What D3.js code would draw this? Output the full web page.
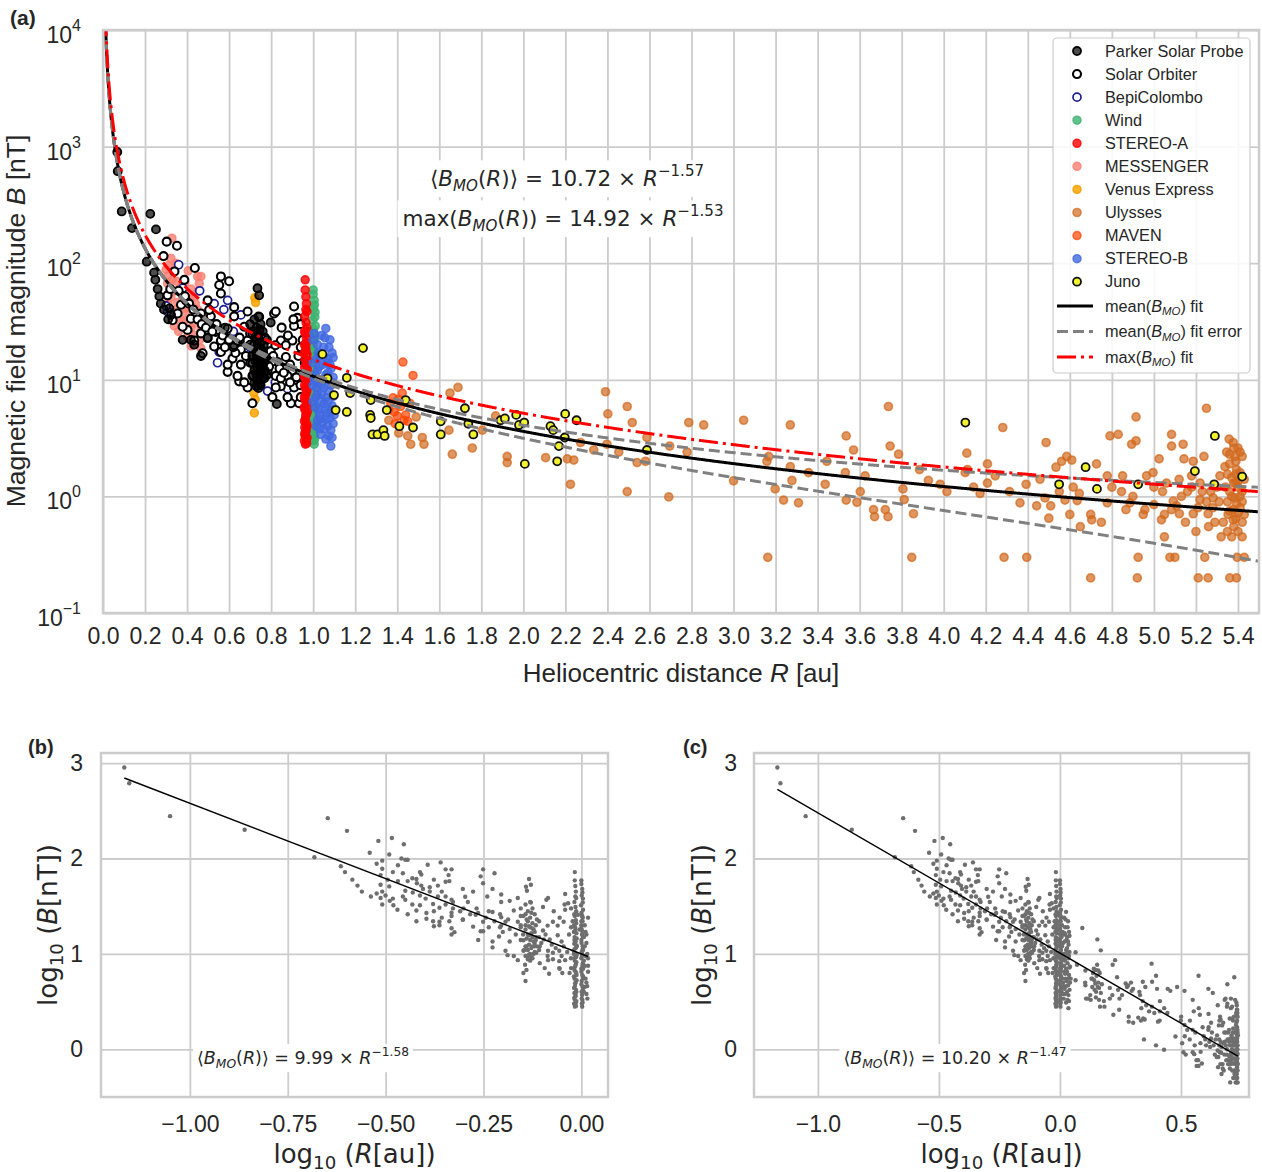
<!DOCTYPE html>
<html>
<head>
<meta charset="utf-8">
<script src="https://cdn.jsdelivr.net/npm/d3@7"></script>
<style>
  body { margin: 0; background: #fff; }
  text { font-family: "Liberation Sans", Arial, sans-serif; white-space: pre; }
</style>
</head>
<body>
<div id="chart"></div>
<script>
const width = 1262;
const height = 1172;

// ---------- values ----------
const xTicksA = [0.0, 0.2, 0.4, 0.6, 0.8, 1.0, 1.2, 1.4, 1.6, 1.8, 2.0, 2.2, 2.4, 2.6, 2.8,
  3.0, 3.2, 3.4, 3.6, 3.8, 4.0, 4.2, 4.4, 4.6, 4.8, 5.0, 5.2, 5.4];
const yTicksA = [0.1, 1, 10, 100, 1000, 10000];
const yTickExpA = ['\u22121', '0', '1', '2', '3', '4'];
const xTicksB = [-1.0, -0.75, -0.5, -0.25, 0.0];
const xTicksC = [-1.0, -0.5, 0.0, 0.5];
const yTicksBC = [0, 1, 2, 3];

// fits: [amplitude, exponent]
const meanFit = [10.72, -1.57];
const maxFit = [14.92, -1.53];
const meanFitError = 0.46;   // nT, half width of the grey band
const innerFit = [9.99, -1.58];
const allFit = [10.20, -1.47];

const missions = ['Parker Solar Probe', 'Solar Orbiter', 'BepiColombo', 'Wind', 'STEREO-A',
  'MESSENGER', 'Venus Express', 'Ulysses', 'MAVEN', 'STEREO-B', 'Juno'];

// [R (au), B (nT)]
const pspData = [
  [0.068, 900], [0.070, 615], [0.089, 278], [0.138, 200], [0.208, 103], [0.225, 265],
  [0.252, 195], [0.243, 83], [0.249, 72], [0.260, 60], [0.268, 52], [0.275, 45],
  [0.290, 40], [0.316, 41], [0.324, 36], [0.310, 33], [0.379, 22], [0.418, 22],
  [0.434, 20], [0.466, 16], [0.498, 23], [0.580, 28], [0.620, 19], [0.735, 61],
  [0.743, 53], [0.798, 31], [0.827, 6.2], [0.700, 30], [0.700, 20], [0.700, 14],
  [0.720, 33], [0.720, 26], [0.720, 18], [0.720, 12], [0.720, 9.5], [0.730, 28],
  [0.730, 22], [0.730, 16], [0.730, 11], [0.730, 8.8], [0.740, 35], [0.740, 24],
  [0.740, 19], [0.740, 14], [0.740, 10], [0.740, 8.5], [0.750, 30], [0.750, 21],
  [0.750, 15], [0.750, 12], [0.750, 9], [0.760, 26], [0.760, 17], [0.760, 13],
  [0.760, 10.5], [0.780, 22], [0.780, 15], [0.780, 11], [0.710, 25], [0.710, 16],
  [0.715, 11], [0.725, 23], [0.725, 14.5], [0.735, 19.5], [0.735, 12.5], [0.735, 9.8],
  [0.745, 27], [0.745, 16.5], [0.745, 11.5], [0.755, 18], [0.755, 13.5], [0.755, 10],
  [0.765, 20], [0.765, 14], [0.770, 12], [0.745, 9.2]
];
const soloData = [
  [0.303, 153], [0.352, 141], [0.288, 115], [0.437, 91], [0.387, 72], [0.561, 77],
  [0.600, 70], [0.553, 65], [0.561, 55], [0.498, 48], [0.624, 42], [0.688, 38.5],
  [0.743, 34.6], [0.814, 37], [0.909, 42.5], [0.925, 34], [0.941, 30], [0.901, 21.7],
  [0.941, 19], [0.980, 25.7], [1.004, 16], [0.957, 10], [0.593, 11.7], [0.648, 9.7],
  [0.688, 8.6], [0.711, 6.3], [0.806, 7.1], [0.846, 8.8], [0.894, 6.3], [0.933, 6.3],
  [0.941, 7.1], [1.012, 7.3], [0.371, 44], [0.331, 32.4], [0.466, 37], [0.498, 22.8],
  [0.529, 19.3], [0.474, 16.9], [0.513, 35], [0.537, 25.7], [0.561, 21.7], [0.593, 27.5],
  [0.624, 19.8], [0.656, 18.2], [0.688, 21.7], [0.711, 13.9], [0.735, 15.7], [0.798, 17.6],
  [0.830, 14.2], [0.870, 15.7], [0.901, 12], [0.878, 10.8], [0.822, 10.8], [0.783, 12],
  [0.767, 10.3], [0.656, 13.5], [0.616, 15.2], [0.561, 17.3], [0.402, 26.8], [0.434, 21.7],
  [0.418, 33.4], [0.355, 37], [0.505, 39.8], [0.624, 35], [0.909, 29], [0.822, 38.5],
  [0.906, 33], [0.711, 10.8], [0.672, 9.5], [0.846, 10.3], [0.878, 7.1], [0.909, 8.6],
  [0.973, 12], [0.822, 8.6], [0.802, 14.2], [0.767, 15], [0.640, 21.7], [0.545, 26.8],
  [0.379, 28.5], [0.394, 48], [0.307, 53], [0.466, 25], [0.672, 28.5], [0.846, 21.7],
  [0.870, 19.8], [0.640, 10.8], [0.593, 13.5], [0.320, 60], [0.340, 85], [0.360, 58],
  [0.390, 52], [0.410, 45], [0.430, 40], [0.450, 33], [0.470, 30], [0.490, 28],
  [0.520, 26], [0.540, 30], [0.570, 24], [0.580, 19], [0.600, 22], [0.630, 17],
  [0.650, 23], [0.680, 16], [0.700, 25], [0.720, 20], [0.750, 18.5], [0.790, 13],
  [0.810, 16], [0.840, 12.5], [0.860, 11.5], [0.890, 13.5], [0.920, 10.5], [0.940, 9],
  [0.960, 14], [0.930, 16], [0.880, 24], [0.850, 28], [0.950, 22], [0.990, 18],
  [0.890, 9.5], [0.820, 19.8], [0.770, 23]
];
const bepiData = [
  [0.360, 97], [0.379, 61], [0.307, 38.5], [0.593, 48], [0.575, 40], [0.656, 36],
  [0.545, 14], [0.783, 8], [0.878, 8.4], [0.529, 45], [0.553, 17.3], [0.624, 24.2],
  [0.460, 58], [0.500, 30], [0.620, 26], [0.700, 19], [0.760, 12], [0.820, 9.5],
  [0.880, 7], [0.300, 43]
];
const windData = [
  [1.000, 59], [1.005, 48], [1.002, 41], [1.008, 34.6], [0.998, 32.4], [1.010, 29],
  [1.003, 25], [1.007, 22], [0.999, 20], [1.004, 17.5], [1.009, 15], [1.001, 13],
  [1.006, 11], [1.003, 9.5], [1.008, 8], [1.000, 7], [1.005, 6], [1.002, 5.2],
  [1.007, 4.5], [1.001, 4], [1.004, 3.7], [1.006, 3.3], [1.003, 3.0], [1.005, 2.8],
  [1.000, 54], [1.006, 44], [1.009, 38], [1.001, 27], [1.008, 24], [1.000, 18.5],
  [1.005, 16], [1.008, 12], [1.002, 10.5], [1.006, 7.5], [1.009, 5.6], [1.000, 4.8],
  [1.008, 4.2], [1.002, 3.4], [1.007, 3.1]
];
const staData = [
  [0.962, 72], [0.962, 59], [0.965, 51.5], [0.968, 45], [0.970, 38.5], [0.960, 35],
  [0.966, 31], [0.970, 28], [0.962, 25], [0.968, 22.5], [0.958, 20], [0.966, 18],
  [0.971, 16.5], [0.961, 15], [0.967, 13.5], [0.972, 12.3], [0.960, 11.2], [0.965, 10.2],
  [0.970, 9.3], [0.962, 8.5], [0.968, 7.8], [0.958, 7.1], [0.966, 6.5], [0.972, 6.0],
  [0.961, 5.5], [0.967, 5.0], [0.963, 4.6], [0.969, 4.2], [0.960, 3.9], [0.966, 3.6],
  [0.962, 3.3], [0.968, 3.1], [0.963, 2.8], [0.957, 17], [0.973, 14.5], [0.959, 12.8],
  [0.969, 11.6], [0.957, 10.6], [0.973, 9.8], [0.959, 9], [0.971, 8.2], [0.964, 7.4],
  [0.960, 6.8], [0.970, 6.3], [0.957, 5.8], [0.972, 5.3], [0.964, 4.9], [0.958, 4.4],
  [0.971, 4.0], [0.966, 3.75], [0.959, 3.45], [0.971, 3.2], [0.958, 3.0], [0.969, 2.85],
  [0.964, 19], [0.970, 21], [0.959, 26], [0.965, 40]
];
const messData = [
  [0.328, 164], [0.323, 110], [0.347, 100], [0.355, 97], [0.405, 86], [0.450, 77],
  [0.300, 88], [0.310, 78], [0.307, 67], [0.350, 70], [0.458, 67], [0.466, 77],
  [0.450, 57], [0.420, 60], [0.380, 55], [0.323, 51], [0.355, 46], [0.440, 45],
  [0.387, 41], [0.400, 38], [0.330, 38], [0.470, 35], [0.387, 32.4], [0.434, 30.5],
  [0.339, 29], [0.466, 27], [0.360, 26], [0.402, 23.4], [0.420, 19.5], [0.466, 18.6],
  [0.310, 95], [0.330, 72], [0.340, 58], [0.370, 62], [0.390, 68], [0.410, 50],
  [0.430, 52], [0.450, 40], [0.350, 40], [0.370, 33], [0.310, 45], [0.420, 28],
  [0.440, 24], [0.460, 22]
];
const vexData = [
  [0.722, 50.5], [0.726, 46], [0.725, 12], [0.728, 9.5], [0.718, 7.7], [0.724, 6.8], [0.720, 5.2]
];
const ulyData = [
  [1.407, 3.5], [1.464, 2.8], [1.519, 3.2], [1.527, 2.8], [1.646, 3.7], [1.651, 7.7],
  [1.689, 8.6], [1.662, 2.3], [1.757, 2.6], [1.805, 3.7], [1.868, 4.9], [1.923, 2.2],
  [1.923, 1.95], [1.360, 4.5], [1.450, 3.3], [1.490, 4.8], [2.106, 2.15], [2.209, 2.1],
  [2.240, 2.05], [2.224, 1.27], [2.272, 2.9], [2.335, 2.5], [2.391, 7.9], [2.402, 5.1],
  [2.398, 2.8], [2.454, 2.4], [2.494, 5.9], [2.494, 1.1], [2.518, 4.3], [2.541, 1.95],
  [2.581, 2.0], [2.588, 3.2], [2.692, 0.99], [2.696, 2.7], [2.779, 2.4], [2.787, 4.3],
  [2.858, 4.1], [3.000, 1.36], [3.048, 4.5], [3.159, 2.0], [3.167, 2.2], [3.163, 0.30],
  [3.198, 1.16], [3.238, 0.93], [3.270, 4.1], [3.270, 1.8], [3.278, 1.37], [3.309, 0.88],
  [3.357, 1.6], [3.436, 1.27], [3.444, 2.0], [3.532, 1.6], [3.536, 3.3], [3.536, 0.93],
  [3.571, 2.5], [3.587, 0.89], [3.603, 1.1], [3.626, 1.5], [3.666, 0.77], [3.671, 0.67],
  [3.722, 0.77], [3.735, 0.67], [3.737, 5.9], [3.745, 2.7], [3.785, 2.3], [3.806, 1.16],
  [3.812, 0.94], [3.848, 0.30], [3.856, 0.71], [3.885, 1.7], [3.927, 1.37], [3.983, 1.27],
  [4.015, 1.1], [4.102, 1.6], [4.110, 2.35], [4.113, 1.7], [4.142, 1.2], [4.173, 1.06],
  [4.208, 1.9], [4.208, 1.3], [4.245, 1.5], [4.281, 3.9], [4.287, 0.30], [4.313, 1.1],
  [4.363, 0.88], [4.392, 1.27], [4.395, 0.30], [4.442, 0.83], [4.458, 1.4], [4.482, 0.97],
  [4.487, 2.9], [4.509, 0.83], [4.534, 1.78], [4.561, 2.0], [4.577, 0.93], [4.585, 2.2],
  [4.609, 2.05], [4.616, 1.2], [4.635, 0.92], [4.645, 1.06], [4.699, 0.7], [4.699, 0.2],
  [4.704, 0.63], [4.727, 1.9], [4.778, 1.5], [4.778, 0.88], [4.791, 3.3], [4.830, 3.4],
  [4.846, 1.1], [4.851, 1.5], [4.867, 0.77], [4.886, 0.88], [4.894, 2.8], [4.915, 3.0],
  [4.915, 4.8], [4.921, 0.2], [4.925, 0.3], [4.949, 0.7], [4.957, 0.77], [4.965, 1.5],
  [4.996, 1.6], [5.025, 2.1], [5.036, 0.63], [5.041, 1.1], [5.076, 0.3], [5.084, 3.4],
  [5.084, 2.7], [5.084, 0.77], [5.092, 0.91], [5.100, 0.3], [5.108, 0.83], [5.121, 0.71],
  [5.131, 1.0], [5.139, 2.8], [5.143, 2.1], [5.179, 1.5], [5.187, 2.0], [5.187, 0.71],
  [5.211, 0.2], [5.219, 0.94], [5.238, 2.2], [5.242, 0.3], [5.250, 5.7], [5.258, 0.2],
  [5.258, 0.71], [5.282, 0.97], [5.314, 1.5], [5.338, 1.8], [5.346, 2.4], [5.353, 0.7],
  [5.358, 3.1], [5.361, 0.2], [5.377, 2.9], [5.377, 0.77], [5.377, 0.63], [5.385, 2.2],
  [5.385, 0.97], [5.390, 1.3], [5.393, 1.7], [5.393, 0.87], [5.393, 0.2], [5.396, 0.3],
  [5.401, 0.72], [5.360, 1.1], [5.400, 1.2], [5.410, 1.0], [5.370, 1.45], [5.420, 0.9],
  [5.400, 2.6], [5.360, 1.9], [5.410, 1.6], [5.380, 0.55], [5.420, 0.45], [5.350, 0.5],
  [5.390, 2.0], [5.300, 1.2], [5.270, 1.1], [5.220, 1.3], [5.160, 1.1], [5.060, 1.3],
  [5.120, 1.4], [5.000, 1.2], [5.200, 0.5], [5.260, 0.55], [5.050, 0.45],
  [5.340, 1.2], [5.350, 0.9], [5.360, 0.75], [5.370, 1.0], [5.380, 1.3], [5.390, 1.55],
  [5.400, 1.35], [5.410, 0.8], [5.420, 1.1], [5.430, 1.4], [5.430, 0.7], [5.420, 2.2],
  [5.410, 2.4], [5.380, 2.6], [5.360, 2.3], [5.350, 1.55], [5.390, 0.65], [5.400, 0.5],
  [5.370, 0.45], [5.420, 0.6], [5.430, 0.3], [5.330, 0.6], [5.310, 0.9], [5.290, 0.6],
  [5.320, 0.45], [5.280, 0.8], [5.250, 0.9], [5.230, 1.1], [5.210, 0.8], [5.180, 1.2],
  [4.600, 0.7], [4.650, 0.55], [4.750, 0.6], [4.800, 1.2], [4.900, 1.0], [5.000, 0.85],
  [5.050, 0.7], [5.150, 0.6], [4.550, 1.1], [4.500, 0.65]
];
const mavenData = [
  [1.427, 14.2], [1.475, 10.9], [1.369, 6.3], [1.385, 5.3], [1.400, 4.9], [1.416, 5.9],
  [1.424, 7.7], [1.390, 4.2], [1.440, 5.0], [1.460, 6.3], [1.360, 5.5], [1.432, 4.5],
  [1.380, 7.0], [1.450, 4.4], [1.405, 6.8]
];
const stbData = [
  [1.060, 27.6], [1.040, 24], [1.080, 22], [1.020, 20], [1.050, 19], [1.090, 17],
  [1.030, 16], [1.070, 15], [1.000, 14], [1.045, 13.5], [1.085, 12.5], [1.020, 12],
  [1.060, 11], [1.035, 10], [1.090, 9.5], [1.000, 9], [1.050, 8.5], [1.075, 8],
  [1.020, 7.5], [1.060, 7], [1.040, 6.5], [1.090, 6], [1.010, 5.8], [1.055, 5.5],
  [1.030, 5], [1.080, 4.7], [1.045, 4.3], [1.070, 4], [1.036, 3.4], [1.084, 3.7],
  [1.084, 2.7], [1.060, 3.1], [1.020, 4.5], [1.000, 6.5], [1.095, 10.5], [1.010, 11],
  [1.065, 14], [1.025, 17], [1.075, 19], [1.000, 22], [1.040, 9], [1.065, 5.2],
  [1.015, 8.5], [1.080, 13.5], [1.005, 25], [1.055, 23], [1.095, 15.5], [1.015, 15],
  [1.050, 16], [1.030, 13], [1.070, 11.5], [1.005, 10], [1.055, 10], [1.085, 9],
  [1.025, 9.5], [1.070, 6.5], [1.040, 7.5], [1.095, 7.2], [1.010, 7], [1.050, 6.2],
  [1.025, 5.5], [1.085, 5.5], [1.060, 4.6], [1.035, 4.6], [1.095, 4.2], [1.015, 4],
  [1.050, 3.8], [1.075, 3.3], [1.030, 3.8], [1.100, 5], [1.090, 3.2]
];
const junoData = [
  [1.044, 16.6], [1.068, 10.3], [1.099, 7.4], [1.107, 5.5], [1.160, 10.4], [1.160, 5.3],
  [1.176, 7.7], [1.237, 18.7], [1.274, 6.7], [1.271, 5.0], [1.274, 4.7], [1.282, 3.4],
  [1.306, 3.4], [1.334, 3.7], [1.340, 3.3], [1.350, 5.5], [1.410, 4.0], [1.440, 6.7],
  [1.475, 3.9], [1.607, 4.4], [1.607, 3.4], [1.722, 5.7], [1.738, 4.2], [1.762, 3.4],
  [1.892, 4.5], [1.912, 4.66], [1.966, 5.0], [1.979, 4.1], [2.004, 4.3], [2.007, 1.9],
  [2.129, 4.0], [2.142, 3.7], [2.161, 2.0], [2.169, 2.7], [2.197, 3.2], [2.199, 5.1],
  [2.253, 4.5], [2.588, 2.5], [4.103, 4.3], [4.549, 1.27], [4.675, 1.78], [4.729, 1.16],
  [4.925, 1.27], [5.195, 1.65], [5.290, 3.3], [5.287, 1.27], [5.420, 1.48]
];
const missionData = [pspData, soloData, bepiData, windData, staData, messData, vexData,
  ulyData, mavenData, stbData, junoData];
// order in which the missions are stacked (bottom first)
const drawOrder = [5, 6, 2, 1, 0, 3, 4, 9, 7, 8, 10];

// ---------- styles ----------
const missionStyle = [
  { fill: '#000000', fo: 0.7, stroke: '#000000', so: 1, sw: 1.8 },
  { fill: '#ffffff', fo: 1, stroke: '#000000', so: 1, sw: 2.1 },
  { fill: '#ffffff', fo: 1, stroke: '#1c1c96', so: 1, sw: 1.7 },
  { fill: '#3cb371', fo: 0.8, stroke: '#3cb371', so: 0.8, sw: 1.5 },
  { fill: '#ff0000', fo: 0.8, stroke: '#ff0000', so: 0.8, sw: 1.5 },
  { fill: '#fa8072', fo: 0.8, stroke: '#fa8072', so: 0.8, sw: 1.5 },
  { fill: '#ffa500', fo: 0.85, stroke: '#f0a000', so: 0.85, sw: 1.5 },
  { fill: '#d2691e', fo: 0.7, stroke: '#d2691e', so: 0.7, sw: 1.7 },
  { fill: '#ff4500', fo: 0.7, stroke: '#ff4500', so: 0.7, sw: 1.5 },
  { fill: '#4169e1', fo: 0.8, stroke: '#4169e1', so: 0.8, sw: 1.5 },
  { fill: '#f2f22e', fo: 1, stroke: '#111111', so: 1, sw: 1.8 }
];
const markerR = 4;
const gridColor = '#cccccc';
const textColor = '#262626';
const sans = '"Liberation Sans", Arial, sans-serif';
const math = '"DejaVu Sans", sans-serif';

const svg = d3.select('#chart')
  .append('svg')
  .attr('width', width)
  .attr('height', height)
  .style('background', '#fff');

// mathtext-like label: segs = [[text, flags]], flags: i italic, b subscript, p superscript
function mathText(parent, x, y, segs, size, family, anchor) {
  const t = parent.append('text')
    .attr('x', x).attr('y', y)
    .attr('text-anchor', anchor || 'start')
    .attr('fill', textColor)
    .style('font-family', family)
    .style('font-size', size + 'px');
  let off = 0;
  segs.forEach(([str, f = '']) => {
    const shift = f.includes('b') ? size * 0.24 : f.includes('p') ? -size * 0.45 : 0;
    const ts = t.append('tspan').attr('dy', shift - off).text(str);
    if (f.includes('b') || f.includes('p')) ts.style('font-size', (size * 0.7) + 'px');
    if (f.includes('i')) ts.style('font-style', 'italic');
    off = shift;
  });
  return t;
}

function boxBehind(parent, t, padX, padY) {
  const bb = t.node().getBBox();
  parent.insert('rect', () => t.node())
    .attr('x', bb.x - padX).attr('y', bb.y - padY)
    .attr('width', bb.width + 2 * padX).attr('height', bb.height + 2 * padY)
    .attr('fill', '#fff');
}

function styleGrid(g, size) {
  g.select('.domain').remove();
  g.selectAll('.tick line').attr('stroke', gridColor).attr('stroke-width', 1.8);
  g.selectAll('.tick text')
    .attr('fill', textColor)
    .style('font-family', sans)
    .style('font-size', size + 'px');
}

// ================= panel (a) =================
const a = { left: 103, top: 30, right: 1259, bottom: 613 };
const xA = d3.scaleLinear().domain([0, 5.5]).range([a.left, a.right]);
const yA = d3.scaleLog().domain([0.1, 1e4]).range([a.bottom, a.top]);

svg.append('defs').append('clipPath').attr('id', 'clipA')
  .append('rect').attr('x', a.left).attr('y', a.top)
  .attr('width', a.right - a.left).attr('height', a.bottom - a.top);

svg.append('g')
  .attr('transform', `translate(0, ${a.bottom})`)
  .call(d3.axisBottom(xA).tickValues(xTicksA).tickSize(-(a.bottom - a.top))
    .tickPadding(15).tickFormat(d3.format('.1f')))
  .call(g => styleGrid(g, 23));

svg.append('g')
  .attr('transform', `translate(${a.left}, 0)`)
  .call(d3.axisLeft(yA).tickValues(yTicksA).tickSize(-(a.right - a.left)).tickFormat(''))
  .call(g => styleGrid(g, 23));

yTicksA.forEach((v, i) => {
  const t = svg.append('text')
    .attr('x', a.left - 22).attr('y', yA(v) + 13)
    .attr('text-anchor', 'end').attr('fill', textColor)
    .style('font-size', '23px');
  t.append('tspan').text('10');
  t.append('tspan').attr('dy', -12).style('font-size', '16px').text(yTickExpA[i]);
});

const plotA = svg.append('g').attr('clip-path', 'url(#clipA)');

drawOrder.forEach(i => {
  const st = missionStyle[i];
  plotA.append('g').selectAll('circle')
    .data(missionData[i])
    .enter()
    .append('circle')
    .attr('cx', d => xA(d[0]))
    .attr('cy', d => yA(d[1]))
    .attr('r', markerR)
    .attr('fill', st.fill).attr('fill-opacity', st.fo)
    .attr('stroke', st.stroke).attr('stroke-opacity', st.so)
    .attr('stroke-width', st.sw);
});

const rGrid = d3.range(0.008, 5.5, 0.004).concat([5.5]);
const power = p => r => p[0] * Math.pow(r, p[1]);
const lineA = d3.line().x(d => xA(d[0])).y(d => yA(d[1]));

plotA.append('path')
  .datum(rGrid.map(r => [r, power(meanFit)(r)]))
  .attr('d', lineA).attr('fill', 'none')
  .attr('stroke', '#000').attr('stroke-width', 3);

[1, -1].forEach(s => {
  plotA.append('path')
    .datum(rGrid.map(r => [r, power(meanFit)(r) + s * meanFitError]))
    .attr('d', lineA).attr('fill', 'none')
    .attr('stroke', '#808080').attr('stroke-width', 3)
    .attr('stroke-dasharray', '11,5');
});

plotA.append('path')
  .datum(rGrid.map(r => [r, power(maxFit)(r)]))
  .attr('d', lineA).attr('fill', 'none')
  .attr('stroke', '#ff0000').attr('stroke-width', 3)
  .attr('stroke-dasharray', '19,5,3,5');

svg.append('rect')
  .attr('x', a.left).attr('y', a.top)
  .attr('width', a.right - a.left).attr('height', a.bottom - a.top)
  .attr('fill', 'none').attr('stroke', gridColor).attr('stroke-width', 2.5);

// equations in (a)
const eq1 = mathText(svg, 567, 186, [['\u27E8'], ['B', 'i'], ['MO', 'ib'], ['('], ['R', 'i'],
  [')\u27E9 = 10.72 \u00D7 '], ['R', 'i'], ['\u22121.57', 'p']], 21.5, math, 'middle');
boxBehind(svg, eq1, 5, 2);
const eq2 = mathText(svg, 563, 226, [['max('], ['B', 'i'], ['MO', 'ib'], ['('], ['R', 'i'],
  [')) = 14.92 \u00D7 '], ['R', 'i'], ['\u22121.53', 'p']], 21.5, math, 'middle');
boxBehind(svg, eq2, 5, 2);

// axis labels (a)
mathText(svg, 681, 682, [['Heliocentric distance '], ['R', 'i'], [' [au]']], 26, sans, 'middle');
mathText(svg, 0, 0, [['Magnetic field magnitude '], ['B', 'i'], [' [nT]']], 26.5, sans, 'middle')
  .attr('transform', 'translate(25, 321) rotate(-90)');

svg.append('text').attr('x', 10).attr('y', 25)
  .attr('fill', textColor).style('font-size', '21px').style('font-weight', 'bold').text('(a)');

// legend (a)
const legend = svg.append('g');
legend.append('rect')
  .attr('x', 1053).attr('y', 38).attr('width', 197).attr('height', 335).attr('rx', 4)
  .attr('fill', '#fff').attr('fill-opacity', 0.85)
  .attr('stroke', gridColor).attr('stroke-width', 1.2);

missions.forEach((m, i) => {
  const st = missionStyle[i];
  const yy = 51 + i * 23.07;
  legend.append('circle')
    .attr('cx', 1077).attr('cy', yy).attr('r', markerR)
    .attr('fill', st.fill).attr('fill-opacity', st.fo)
    .attr('stroke', st.stroke).attr('stroke-opacity', st.so)
    .attr('stroke-width', st.sw);
  legend.append('text')
    .attr('x', 1105).attr('y', yy + 5.5)
    .attr('fill', textColor).style('font-size', '16.3px').text(m);
});

const lineKeys = [
  { y: 306, stroke: '#000', dash: null, segs: [['mean('], ['B', 'i'], ['MO', 'ib'], [') fit']] },
  { y: 331.5, stroke: '#808080', dash: '11,5', segs: [['mean('], ['B', 'i'], ['MO', 'ib'], [') fit error']] },
  { y: 357, stroke: '#ff0000', dash: '19,5,3,5', segs: [['max('], ['B', 'i'], ['MO', 'ib'], [') fit']] }
];
lineKeys.forEach(k => {
  legend.append('line')
    .attr('x1', 1057).attr('x2', 1093).attr('y1', k.y).attr('y2', k.y)
    .attr('stroke', k.stroke).attr('stroke-width', 3)
    .attr('stroke-dasharray', k.dash);
  mathText(legend, 1105, k.y + 5.5, k.segs, 16.3, sans, 'start');
});

// ================= panels (b) and (c) =================
const allObs = missionData.flat();
const toLog = d => [Math.log10(d[0]), Math.log10(d[1])];
const innerObs = allObs.filter(d => d[0] <= 1.04).map(toLog);
const allLogObs = allObs.map(toLog);

function logPanel(cfg) {
  const x = d3.scaleLinear().domain(cfg.xDomain).range([cfg.left, cfg.right]);
  const y = d3.scaleLinear().domain([-0.5, 3.106]).range([cfg.bottom, cfg.top]);
  const w = cfg.right - cfg.left;
  const h = cfg.bottom - cfg.top;

  svg.select('defs').append('clipPath').attr('id', cfg.id)
    .append('rect').attr('x', cfg.left).attr('y', cfg.top).attr('width', w).attr('height', h);

  svg.append('g')
    .attr('transform', `translate(0, ${cfg.bottom})`)
    .call(d3.axisBottom(x).tickValues(cfg.xTicks).tickSize(-h)
      .tickPadding(19).tickFormat(d3.format(cfg.fmt)))
    .call(g => styleGrid(g, 23));

  svg.append('g')
    .attr('transform', `translate(${cfg.left}, 0)`)
    .call(d3.axisLeft(y).tickValues(yTicksBC)
      .tickSize(-w).tickPadding(cfg.yPad).tickFormat(d3.format('d')))
    .call(g => styleGrid(g, 23));

  const plot = svg.append('g').attr('clip-path', `url(#${cfg.id})`);
  plot.append('g').selectAll('circle')
    .data(cfg.points)
    .enter()
    .append('circle')
    .attr('cx', d => x(d[0]))
    .attr('cy', d => y(d[1]))
    .attr('r', 2.2)
    .attr('fill', '#6e6e6e');

  const xr = d3.extent(cfg.points, d => d[0]);
  const lf = v => Math.log10(cfg.fit[0]) + cfg.fit[1] * v;
  plot.append('line')
    .attr('x1', x(xr[0])).attr('y1', y(lf(xr[0])))
    .attr('x2', x(xr[1])).attr('y2', y(lf(xr[1])))
    .attr('stroke', '#000').attr('stroke-width', 1.4);

  svg.append('rect')
    .attr('x', cfg.left).attr('y', cfg.top).attr('width', w).attr('height', h)
    .attr('fill', 'none').attr('stroke', gridColor).attr('stroke-width', 2.5);

  const eq = mathText(svg, cfg.eqX, 1064, [['\u27E8'], ['B', 'i'], ['MO', 'ib'], ['('], ['R', 'i'],
    [`)\u27E9 = ${cfg.fit[0].toFixed(2)} \u00D7 `], ['R', 'i'],
    [`\u2212${(-cfg.fit[1]).toFixed(2)}`, 'p']], 17.5, math, 'middle');
  boxBehind(svg, eq, 4, 1);

  mathText(svg, (cfg.left + cfg.right) / 2, 1163,
    [['log'], ['10', 'b'], [' ('], ['R', 'i'], ['[au])']], 26, math, 'middle');
  mathText(svg, 0, 0, [['log'], ['10', 'b'], [' ('], ['B', 'i'], ['[nT])']], 26, math, 'middle')
    .attr('transform', `translate(${cfg.yLabelX}, ${(cfg.top + cfg.bottom) / 2}) rotate(-90)`);

  svg.append('text').attr('x', cfg.tagX).attr('y', 754)
    .attr('fill', textColor).style('font-size', '20px').style('font-weight', 'bold')
    .text(cfg.tag);
}

logPanel({
  id: 'clipB', tag: '(b)', tagX: 28, left: 101, right: 608, top: 753, bottom: 1097,
  xDomain: [-1.227, 0.068], xTicks: xTicksB, fmt: '.2f', yPad: 18,
  points: innerObs, fit: innerFit, eqX: 303, yLabelX: 57
});
logPanel({
  id: 'clipC', tag: '(c)', tagX: 683, left: 754, right: 1249, top: 753, bottom: 1097,
  xDomain: [-1.264, 0.781], xTicks: xTicksC, fmt: '.1f', yPad: 17,
  points: allLogObs, fit: allFit, eqX: 955, yLabelX: 711
});
</script>
</body>
</html>
